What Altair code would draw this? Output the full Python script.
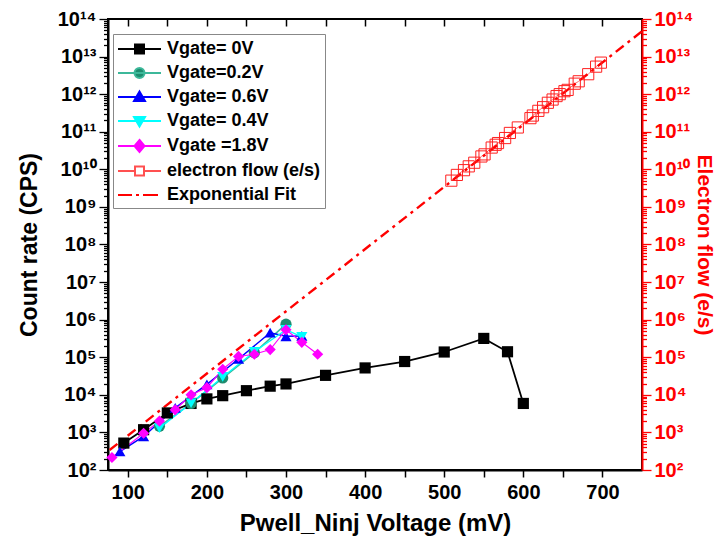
import altair as alt
import pandas as pd

# ---------------- data ----------------
series_names = ["Vgate= 0V", "Vgate=0.2V", "Vgate= 0.6V", "Vgate= 0.4V",
                "Vgate =1.8V", "electron flow (e/s)", "Exponential Fit"]

v0_mv = [95, 120, 150, 180, 200, 220, 250, 280, 300, 350, 400, 450, 500, 550, 580, 600]
v0_cps = [520, 1180, 3300, 5900, 7800, 9500, 12900, 17000, 19500, 33000, 52000,
          77000, 138000, 317000, 140000, 5900]

v02_mv = [140, 180, 220, 260, 300]
v02_cps = [1450, 5900, 28000, 132000, 760000]

v06_mv = [90, 120, 160, 200, 240, 280, 300, 320]
v06_cps = [310, 780, 4500, 19000, 90000, 450000, 360000, 370000]

v04_mv = [140, 180, 220, 260, 300, 320]
v04_cps = [1300, 6000, 30000, 140000, 540000, 350000]

v18_mv = [80, 120, 140, 160, 180, 200, 220, 240, 260, 280, 300, 320, 340]
v18_cps = [215, 950, 2000, 4000, 10000, 15500, 48000, 105000, 120000, 160000,
           540000, 250000, 120000]

ef_mv = [509, 516, 525, 531, 538, 547, 551, 560, 565, 568, 577, 583, 593, 609,
         612, 619, 625, 631, 637, 642, 646, 652, 656, 665, 670, 682, 692, 698]
ef_rate = [5.0e9, 7.1e9, 9.5e9, 1.2e10, 1.5e10, 2.2e10, 2.5e10, 3.8e10, 4.5e10,
           5.0e10, 6.8e10, 9.3e10, 1.3e11, 2.3e11, 2.7e11, 3.6e11, 4.5e11, 5.9e11,
           7.2e11, 8.9e11, 1.0e12, 1.2e12, 1.3e12, 1.9e12, 2.2e12, 3.4e12, 5.4e12,
           6.9e12]

fit_mv = [77, 750]
fit_rate = [340, 4.7e13]

x_ticks = [100, 150, 200, 250, 300, 350, 400, 450, 500, 550, 600, 650, 700]

# ---------------- styles ----------------
data_series = series_names[:6]
line_colors = ["#000000", "#3CB89A", "#0000FF", "#00FFFF", "#FF00FF", "#FF7070"]
marker_colors = ["#000000", "#1E8C6E", "#0000FF", "#00FFFF", "#FF00FF", "#FF0000"]
line_widths = [1.8, 1.0, 2.5, 2.0, 2.0, 1.0]
shapes = ["square", "circle", "triangle-up", "triangle-down", "diamond", "square"]

legend_paths = [
    "M-1,0H3.3M0.7,-0.45H1.6V0.45H0.7Z",
    "M-1,0H3.3M0.65,0A0.5,0.5 0 1,0 1.65,0A0.5,0.5 0 1,0 0.65,0Z",
    "M-1,0H3.3M1.15,-0.55L1.7,0.4L0.6,0.4Z",
    "M-1,0H3.3M1.15,0.55L1.7,-0.4L0.6,-0.4Z",
    "M-1,0H3.3M1.15,-0.6L1.65,0L1.15,0.6L0.65,0Z",
    "M-1,0H0.7M1.6,0H3.3M0.7,-0.45H1.6V0.45H0.7Z",
    "M-1,0H0.4M0.8,0H1.1M1.5,0H3.0",
]
legend_fill = ["#000000", "#1E8C6E", "#0000FF", "#00FFFF", "#FF00FF", "transparent", "transparent"]
legend_stroke = ["#000000", "#3CB89A", "#0000FF", "#00FFFF", "#FF00FF", "#FF5050", "#FF0000"]

FONT = "Liberation Sans"

# ---------------- build tables ----------------
rows = []
for name, xs, ys in [(series_names[0], v0_mv, v0_cps), (series_names[1], v02_mv, v02_cps),
                     (series_names[2], v06_mv, v06_cps), (series_names[3], v04_mv, v04_cps),
                     (series_names[4], v18_mv, v18_cps), (series_names[5], ef_mv, ef_rate),
                     (series_names[6], fit_mv, fit_rate)]:
    for a, b in zip(xs, ys):
        rows.append({"series": name, "mv": a, "val": b})
df = pd.DataFrame(rows)
df_lines = df[df["series"].isin(data_series)]
df_pts = df[df["series"].isin(series_names[:5])]
df_ef = df[df["series"] == series_names[5]]
df_fit = df[df["series"] == series_names[6]]

# ---------------- scales & axes ----------------
xscale = alt.Scale(domain=[75, 750], nice=False, zero=False)
yscale = alt.Scale(type="log", domain=[1e2, 1e14], nice=False)

y_vals = []
for e in range(2, 14):
    for m in range(1, 10):
        y_vals.append(float(m * 10 ** e))
y_vals.append(1e14)

E = "round(log(datum.value)/LN10)"
MAJOR = f"abs(log(datum.value)/LN10 - {E}) < 1e-6"
SUP = "'\u2070\u00b9\u00b2\u00b3\u2074\u2075\u2076\u2077\u2078\u2079'"
sup_expr = (f"({MAJOR}) ? '10' + ({E} >= 10 ? substring({SUP}, floor({E}/10), floor({E}/10)+1) : '')"
            f" + substring({SUP}, {E}%10, {E}%10+1) : ''")
tick_cond = {"condition": {"test": MAJOR, "value": 9}, "value": 4.5}


def y_axis(orient, color, title, title_size, title_pad):
    return alt.Axis(orient=orient, values=y_vals, labelExpr=sup_expr, tickSize=tick_cond,
                    labelFont=FONT, labelFontSize=20, labelFontWeight="bold", labelColor=color,
                    labelOverlap=False, labelFlush=False, labelPadding=3,
                    title=title, titleFont=FONT, titleFontSize=title_size, titleFontWeight="bold",
                    titleColor=color, titlePadding=title_pad,
                    domainColor=color, domainWidth=2, tickColor=color, tickWidth=1.3, grid=False)


left_axis = y_axis("left", "#000000", "Count rate (CPS)", 23, 16)
right_axis = y_axis("right", "#FF0000", "Electron flow (e/s)", 21, 1)

bottom_axis = alt.Axis(orient="bottom", values=x_ticks,
                       labelExpr="datum.value % 100 == 0 ? datum.label : ''",
                       tickSize=7, tickWidth=1.5, tickColor="#000000",
                       labelFont=FONT, labelFontSize=20, labelFontWeight="bold", labelColor="#000000",
                       labelPadding=5, labelOverlap=False, labelFlush=False,
                       title="Pwell_Ninj Voltage (mV)", titleFont=FONT, titleFontSize=24,
                       titleFontWeight="bold", titleColor="#000000", titlePadding=9,
                       domainColor="#000000", domainWidth=2, grid=False)
top_axis = alt.Axis(orient="top", values=x_ticks, labels=False, domain=False, title=None,
                    tickSize=7, tickWidth=1.5, tickColor="#000000", offset=-7, grid=False)

legend = alt.Legend(
    title=None, orient="none", legendX=5, legendY=15,
    symbolSize=400, labelOffset=28, symbolStrokeWidth=2, symbolOpacity=1,
    labelFont=FONT, labelFontSize=18, labelFontWeight="bold", labelColor="#000000",
    strokeColor="#888888", fillColor="#FFFFFF", padding=4, rowPadding=4,
)

# ---------------- layers ----------------
lines = alt.Chart(df_lines).mark_line(clip=True).encode(
    x=alt.X("mv:Q", scale=xscale, axis=bottom_axis),
    y=alt.Y("val:Q", scale=yscale, axis=left_axis),
    stroke=alt.Stroke("series:N", scale=alt.Scale(domain=data_series, range=line_colors), legend=None),
    strokeWidth=alt.StrokeWidth("series:N", scale=alt.Scale(domain=data_series, range=line_widths),
                                legend=None),
    order="mv:Q",
)

fit_line = alt.Chart(df_fit).mark_line(clip=True, color="#FF0000", strokeWidth=2.4,
                                        strokeDash=[10, 5, 3, 5]).encode(
    x=alt.X("mv:Q", scale=xscale, axis=None),
    y=alt.Y("val:Q", scale=yscale, axis=None),
)

points = alt.Chart(df_pts).mark_point(filled=True, opacity=1, size=125).encode(
    x=alt.X("mv:Q", scale=xscale, axis=top_axis),
    y=alt.Y("val:Q", scale=yscale, axis=None),
    fill=alt.Fill("series:N", scale=alt.Scale(domain=data_series, range=marker_colors), legend=None),
    shape=alt.Shape("series:N", scale=alt.Scale(domain=data_series, range=shapes), legend=None),
)

ef_points = alt.Chart(df_ef).mark_point(shape="square", filled=False, color="#FF2020",
                                         size=125, strokeWidth=1, opacity=1).encode(
    x=alt.X("mv:Q", scale=xscale, axis=None),
    y=alt.Y("val:Q", scale=yscale, axis=right_axis),
)

# legend-only layer: its marks are filtered away, the legend comes from the explicit domains
legend_layer = alt.Chart(df).transform_filter("false").mark_point(opacity=1, strokeWidth=2).encode(
    x=alt.X("mv:Q", scale=xscale, axis=None),
    y=alt.Y("val:Q", scale=yscale, axis=None),
    shape=alt.Shape("series:N", scale=alt.Scale(domain=series_names, range=legend_paths), legend=legend),
    fill=alt.Fill("series:N", scale=alt.Scale(domain=series_names, range=legend_fill), legend=legend),
    stroke=alt.Stroke("series:N", scale=alt.Scale(domain=series_names, range=legend_stroke), legend=legend),
)

chart = alt.layer(lines, fit_line, points, ef_points, legend_layer).resolve_axis(
    x="independent", y="independent"
).resolve_scale(
    fill="independent", stroke="independent", shape="independent"
).properties(
    width=534, height=451,
    autosize=alt.AutoSizeParams(type="none"),
    padding={"left": 100, "top": 11, "right": 78, "bottom": 80},
).configure_view(stroke="#000000", strokeWidth=2)

chart.save("out.html", embed_options={"renderer": "svg", "actions": False})
